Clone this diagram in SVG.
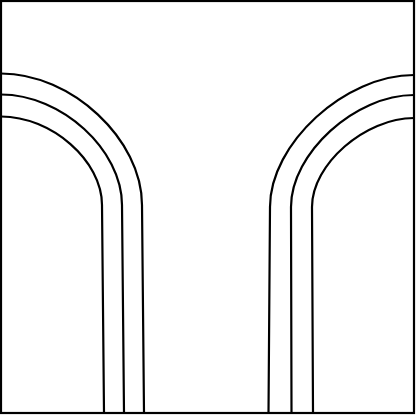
<svg xmlns="http://www.w3.org/2000/svg" width="416" height="415" viewBox="0 0 416 415">
<style>
.l{fill:none;stroke:#000;stroke-width:2.2}
</style>
<rect x="0" y="0" width="416" height="415" fill="#fff"/>
<rect class="l" x="1" y="1" width="413" height="412"/>
<g id="left-arches">
<path class="l" d="M1,73.5 C71.5,73.5 142,139.25 142,205 L144,413"/>
<path class="l" d="M1,94.5 C61.5,94.5 122,149.75 122,205 L124,413"/>
<path class="l" d="M1,116.5 C51.5,116.5 102,160.75 102,205 L104,413"/>
</g>
<g id="right-arches">
<path class="l" d="M414,75 C344.9,75 270,143.6 270,207 L268.5,413"/>
<path class="l" d="M414,95 C355,95 291,153.2 291,207 L291.5,413"/>
<path class="l" d="M414,118 C365,118 312,164.3 312,207 L313,413"/>
</g>
</svg>
